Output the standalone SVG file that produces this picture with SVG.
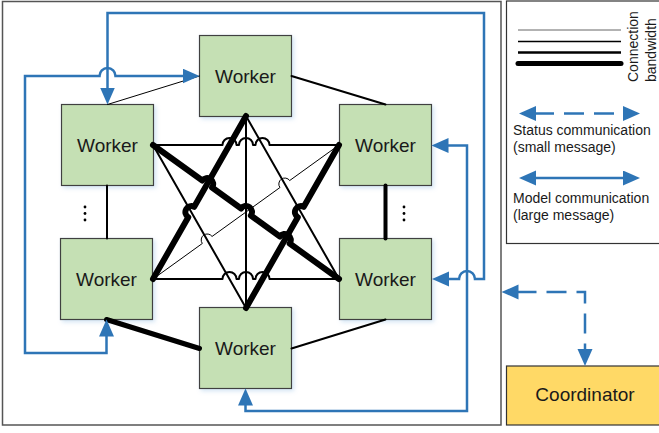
<svg xmlns="http://www.w3.org/2000/svg" width="659" height="433" viewBox="0 0 659 433">
  <style>
    .frame { fill: #ffffff; stroke: #555555; stroke-width: 1.5; }
    .worker rect { fill: #C5E0B4; stroke: #404040; stroke-width: 1.2; filter: url(#shadow); }
    .label { font-family: "Liberation Sans", Arial, sans-serif; fill: #1a1a1a; }
    .wtext { font-size: 19px; text-anchor: middle; }
    .legtext { font-size: 14px; }
    .link { fill: none; stroke: #000000; stroke-linecap: round; stroke-linejoin: round; }
    .w1 { stroke-width: 1; }
    .w2 { stroke-width: 2; }
    .w4 { stroke-width: 4; }
    .w5 { stroke-width: 5; }
    .w6 { stroke-width: 6; }
    .comm { fill: none; stroke: #2E75B6; stroke-width: 2.5; marker-start: url(#arrow); marker-end: url(#arrow); }
    .status { stroke-dasharray: 20 10; }
  </style>
  <defs>
    <filter id="shadow" x="-15%" y="-15%" width="135%" height="135%">
      <feDropShadow dx="2" dy="2" stdDeviation="2" flood-color="#9DC3E6" flood-opacity="0.45"/>
    </filter>
    <marker id="arrow" markerUnits="userSpaceOnUse" markerWidth="18" markerHeight="16" refX="2" refY="7.5" orient="auto-start-reverse">
      <path d="M0,0 L17,7.5 L0,15 Z" fill="#2E75B6"/>
    </marker>
  </defs>

  <!-- cluster frame -->
  <rect class="frame" x="2.5" y="1.5" width="498.5" height="423.5"/>

  <!-- legend -->
  <g id="legend">
    <rect x="506.5" y="1" width="160" height="242.5" fill="#ffffff" stroke="#333333" stroke-width="1.2"/>
    <line x1="518" y1="30" x2="621" y2="30" stroke="#666666" stroke-width="1"/>
    <line x1="518" y1="41.5" x2="621" y2="41.5" stroke="#000000" stroke-width="1.5"/>
    <line x1="518" y1="52.5" x2="621" y2="52.5" stroke="#000000" stroke-width="2.5"/>
    <line x1="518" y1="63.5" x2="621" y2="63.5" stroke="#000000" stroke-width="5" stroke-linecap="round"/>
    <text class="label legtext" transform="translate(638,82) rotate(-90)">Connection</text>
    <text class="label legtext" transform="translate(656,82) rotate(-90)">bandwidth</text>
    <path class="comm status" d="M534,113.5 H625"/>
    <text class="label legtext" x="513" y="135">Status communication</text>
    <text class="label legtext" x="513" y="152">(small message)</text>
    <path class="comm" d="M534,178 H625"/>
    <text class="label legtext" x="513" y="203">Model communication</text>
    <text class="label legtext" x="513" y="220">(large message)</text>
  </g>

  <!-- coordinator -->
  <g id="coordinator">
    <rect x="506.5" y="366" width="160" height="59" fill="#FFD966" stroke="#333333" stroke-width="1.2"/>
    <text class="label wtext" x="585" y="401">Coordinator</text>
  </g>

  <!-- workers -->
  <g id="worker-top" class="worker">
    <rect x="199.5" y="35.5" width="92" height="81"/>
    <text class="label wtext" x="245.5" y="82.5">Worker</text>
  </g>
  <g id="worker-upper-left" class="worker">
    <rect x="61.5" y="104.5" width="92" height="81"/>
    <text class="label wtext" x="107.5" y="151.5">Worker</text>
  </g>
  <g id="worker-upper-right" class="worker">
    <rect x="339.5" y="104.5" width="92" height="81"/>
    <text class="label wtext" x="385.5" y="151.5">Worker</text>
  </g>
  <g id="worker-lower-left" class="worker">
    <rect x="60.5" y="238.5" width="92" height="81"/>
    <text class="label wtext" x="106.5" y="285.5">Worker</text>
  </g>
  <g id="worker-lower-right" class="worker">
    <rect x="339.5" y="238.5" width="92" height="81"/>
    <text class="label wtext" x="385.5" y="285.5">Worker</text>
  </g>
  <g id="worker-bottom" class="worker">
    <rect x="199.5" y="307.5" width="92" height="81"/>
    <text class="label wtext" x="245.5" y="354.5">Worker</text>
  </g>

  <!-- elided workers -->
  <g id="more-workers" fill="#000000">
    <circle cx="85" cy="207" r="1.4"/>
    <circle cx="85" cy="213.5" r="1.4"/>
    <circle cx="85" cy="220" r="1.4"/>
    <circle cx="404" cy="207" r="1.4"/>
    <circle cx="404" cy="213.5" r="1.4"/>
    <circle cx="404" cy="220" r="1.4"/>
  </g>

  <g id="connectors">
    <!-- ring links -->
    <line class="link w1" x1="107.5" y1="104.5" x2="199.5" y2="76"/>
    <line class="link w2" x1="291.5" y1="76" x2="385.5" y2="104.5"/>
    <line class="link w2" x1="107" y1="185.5" x2="107" y2="238.5"/>
    <line class="link w4" x1="385.5" y1="185.5" x2="385.5" y2="238.5"/>
    <line class="link w5" x1="106.5" y1="319.5" x2="199.5" y2="348.5"/>
    <line class="link w2" x1="291.5" y1="348.5" x2="385.5" y2="319.5"/>

    <!-- cross links with line jumps -->
    <path class="link w2" d="M153,145 H222.5 A7,7 0 0 1 236.5,145 H239 A7,7 0 0 1 253,145 H255.5 A7,7 0 0 1 269.5,145 H339"/>
    <path class="link w2" d="M153,279 H222.5 A7,7 0 0 1 236.5,279 H239 A7,7 0 0 1 253,279 H255.5 A7,7 0 0 1 269.5,279 H339"/>
    <path class="link w2" d="M246,116 V308"/>
    <path class="link w2" d="M246,116 L339,279"/>
    <path class="link w2" d="M153,145 L246,308"/>
    <path class="link w6" d="M153,279 L188.26,217.21 A6,6 0 0 1 194.2,206.79 L246,116"/>
    <path class="link w6" d="M246,308 L297.8,217.21 A6,6 0 0 1 303.74,206.79 L339,145"/>
    <path class="link w1" d="M153,279 L202.31,243.48 A6,6 0 0 1 212.05,236.46 L279.95,187.54 A6,6 0 0 1 289.69,180.53 L339,145"/>
    <path class="link w6" d="M153,145 L202.31,180.53 A6,6 0 0 1 212.05,187.54 L241.13,208.49 A6,6 0 0 1 250.87,215.51 L279.95,236.46 A6,6 0 0 1 289.69,243.48 L339,279"/>

    <!-- model communication routes -->
    <path class="comm" d="M447,279 H459 A8,8 0 0 1 475,279 H484 V13 H107.5 V89.5"/>
    <path class="comm" d="M184.5,76 H115.5 A8,8 0 0 0 99.5,76 H25 V353 H106.5 V334.5"/>
    <path class="comm" d="M446.5,145.5 H467 V411 H245.5 V403.5"/>

    <!-- status communication to coordinator -->
    <path class="comm status" d="M516.5,292 H585 V351"/>
  </g>
</svg>
